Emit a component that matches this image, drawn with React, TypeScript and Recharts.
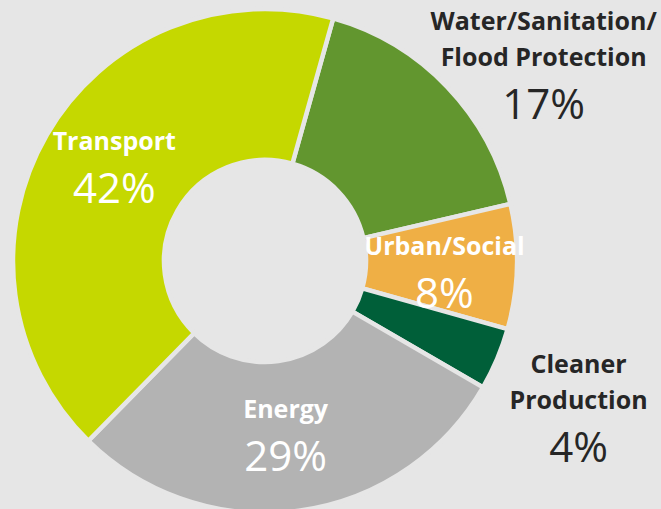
import { Cell, Pie, PieChart } from "recharts";

const categories = [
  "Water/Sanitation/Flood Protection",
  "Urban/Social",
  "Cleaner Production",
  "Energy",
  "Transport",
];
const shares = [17, 8, 4, 29, 42];
const labelLines = [
  ["Water/Sanitation/", "Flood Protection"],
  ["Urban/Social"],
  ["Cleaner", "Production"],
  ["Energy"],
  ["Transport"],
];
const colors = ["#62962f", "#efaf45", "#005f39", "#b3b3b3", "#c5d800"];

// labels that Excel put outside the ring, and small nudges for the rest
const outside = [true, false, true, false, false];
const labelNudge = [
  [82, -7],
  [3, 8],
  [63, 42],
  [-3, 0],
  [2, -4],
];

const BG = "#e6e6e6";
const RAD = Math.PI / 180;

const data = categories.map((name, i) => ({ name, value: shares[i] }));

const renderLabel = (props: any) => {
  const { cx, cy, midAngle, innerRadius, outerRadius, index } = props;
  const r = outside[index] ? outerRadius + 20 : (innerRadius + outerRadius) / 2;
  const ax = cx + r * Math.cos(-midAngle * RAD) + labelNudge[index][0];
  const ay = cy + r * Math.sin(-midAngle * RAD) + labelNudge[index][1];
  const lines = labelLines[index];
  const n = lines.length;
  const b1 = ay - 18 - (n - 1) * 18.25;
  const fill = outside[index] ? "#262626" : "#ffffff";
  return (
    <g key={`lbl-${index}`}>
      {lines.map((t, i) => (
        <text
          key={i}
          x={ax}
          y={b1 + i * 36.5}
          textAnchor="middle"
          fill={fill}
          fontFamily="'Open Sans', sans-serif"
          fontWeight={700}
          fontSize={25}
        >
          {t}
        </text>
      ))}
      <text
        x={ax}
        y={b1 + (n - 1) * 36.5 + 53}
        textAnchor="middle"
        fill={fill}
        fontFamily="'Open Sans', sans-serif"
        fontSize={42}
      >
        {shares[index]}%
      </text>
    </g>
  );
};

const App = () => {
  return (
    <div
      style={{
        position: "fixed",
        left: 0,
        top: 0,
        width: 661,
        height: 509,
        background: BG,
        overflow: "hidden",
      }}
    >
      <PieChart width={661} height={509} margin={{ top: 0, right: 0, bottom: 0, left: 0 }}>
        <Pie
          data={data}
          dataKey="value"
          nameKey="name"
          cx={265}
          cy={261}
          innerRadius={101}
          outerRadius={252}
          startAngle={74.3}
          endAngle={-285.7}
          stroke={BG}
          strokeWidth={4.5}
          label={renderLabel}
          labelLine={false}
          isAnimationActive={false}
        >
          {data.map((d, i) => (
            <Cell key={d.name} fill={colors[i]} />
          ))}
        </Pie>
      </PieChart>
    </div>
  );
};

export default App;
